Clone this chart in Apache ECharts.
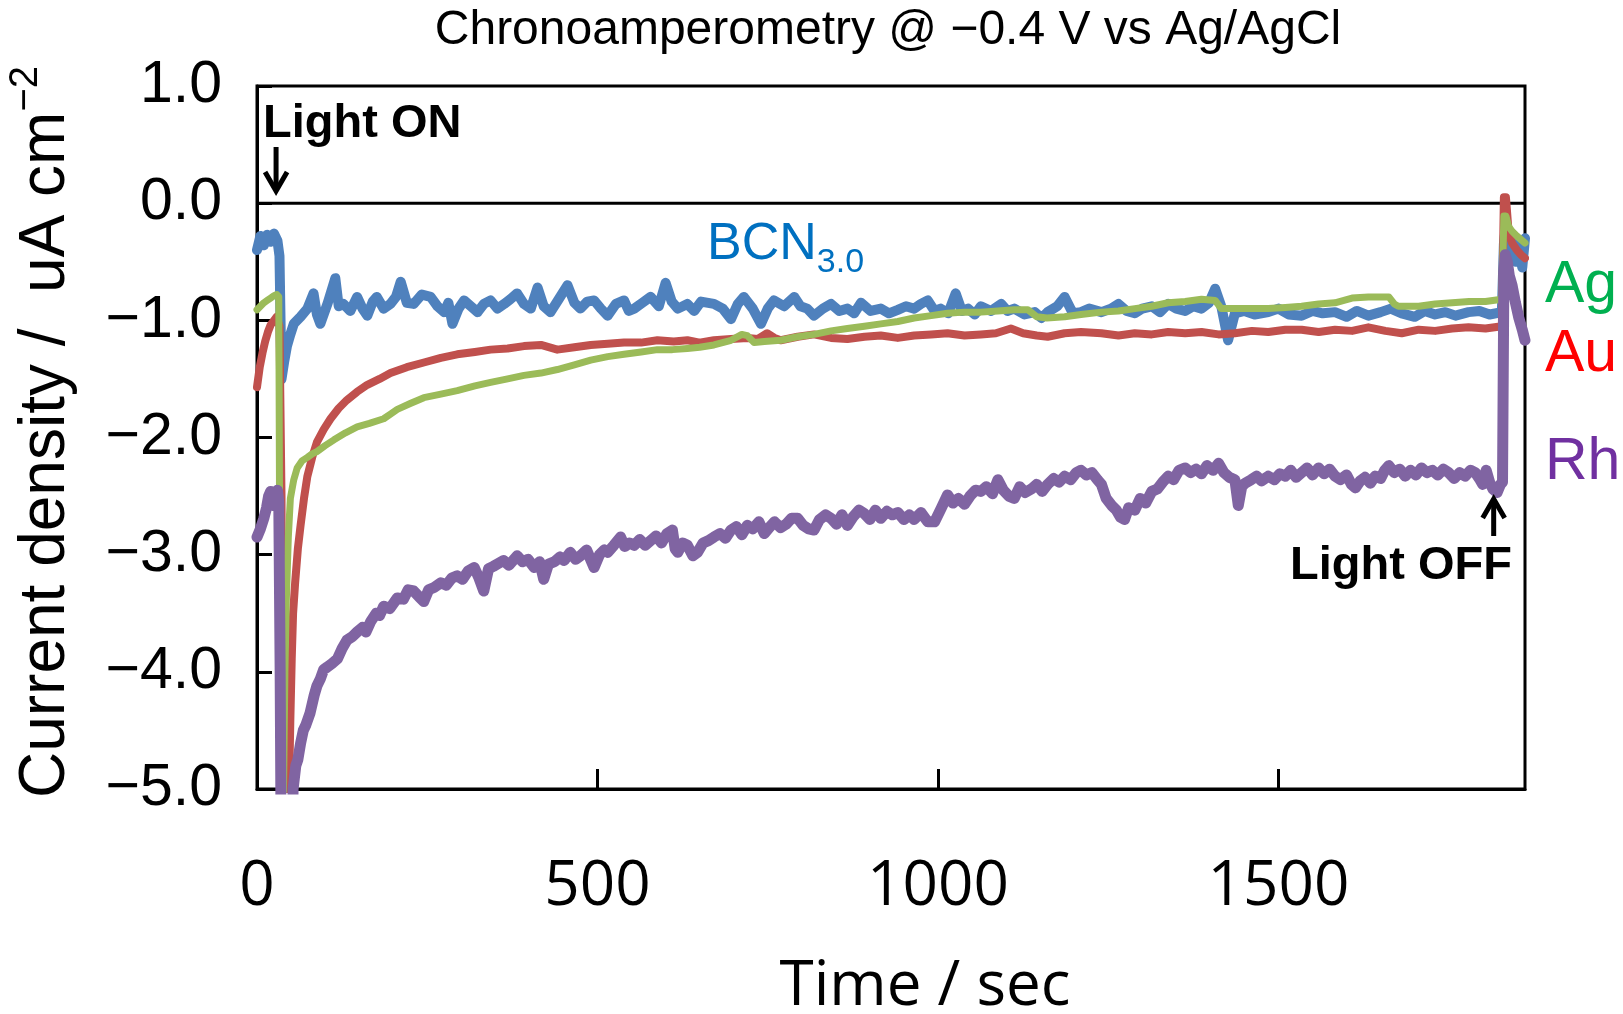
<!DOCTYPE html>
<html><head><meta charset="utf-8">
<script src="https://cdn.jsdelivr.net/npm/echarts@6/dist/echarts.min.js"></script>
<style>html,body{margin:0;padding:0;background:#fff}#c{width:1623px;height:1014px}</style>
</head><body><div id="c"></div>
<script>
// ---------- data ----------
const bcnT = [0,5,10,15,20,25,30,33,36,40,44,49,54,64,74,83,88,93,104,115,120,127,137,147,155,162,170,176,186,196,204,211,220,230,242,255,265,275,281,287,296,304,314,324,333,343,353,363,372,382,392,402,412,421,431,443,456,466,475,485,495,505,515,527,539,546,554,566,578,590,600,609,618,632,642,652,671,684,696,706,715,728,740,750,759,774,789,798,808,818,831,843,855,867,877,887,901,916,928,941,953,965,975,985,995,1004,1015,1026,1035,1044,1054,1063,1078,1093,1102,1112,1127,1142,1152,1161,1175,1186,1198,1210,1222,1240,1254,1265,1277,1289,1300,1314,1326,1338,1350,1363,1375,1387,1398,1407,1416,1426,1436,1450,1465,1485,1500,1515,1534,1550,1565,1583,1600,1615,1632,1650,1665,1681,1700,1715,1730,1745,1760,1779,1795,1810,1828,1831,1834,1838,1842,1848,1853,1858,1862];
const bcnV = [-0.40,-0.28,-0.36,-0.27,-0.33,-0.26,-0.32,-0.45,-1.50,-1.35,-1.22,-1.12,-1.03,-0.97,-0.90,-0.77,-0.95,-1.03,-0.85,-0.64,-0.88,-0.86,-0.92,-0.80,-0.90,-0.96,-0.84,-0.80,-0.90,-0.86,-0.80,-0.67,-0.85,-0.86,-0.78,-0.80,-0.88,-0.93,-0.85,-1.03,-0.90,-0.83,-0.88,-0.93,-0.86,-0.83,-0.90,-0.86,-0.82,-0.77,-0.86,-0.90,-0.72,-0.88,-0.93,-0.82,-0.70,-0.85,-0.90,-0.84,-0.83,-0.90,-0.96,-0.86,-0.83,-0.92,-0.90,-0.85,-0.80,-0.88,-0.68,-0.84,-0.90,-0.86,-0.92,-0.84,-0.86,-0.90,-0.99,-0.86,-0.80,-0.90,-1.03,-0.90,-0.83,-0.88,-0.80,-0.88,-0.90,-0.96,-0.90,-0.86,-0.92,-0.90,-0.94,-0.85,-0.92,-0.90,-0.94,-0.91,-0.88,-0.90,-0.86,-0.83,-0.92,-0.90,-0.94,-0.77,-0.92,-0.90,-0.95,-0.88,-0.92,-0.86,-0.92,-0.90,-0.95,-0.93,-0.98,-0.93,-0.88,-0.80,-0.94,-0.93,-0.90,-0.93,-0.90,-0.86,-0.92,-0.94,-0.90,-0.88,-0.93,-0.86,-0.90,-0.92,-0.88,-0.90,-0.85,-0.73,-0.88,-1.17,-0.94,-0.92,-0.95,-0.93,-0.90,-0.95,-0.96,-0.92,-0.94,-0.93,-0.97,-0.92,-0.96,-0.93,-0.90,-0.94,-0.97,-0.92,-0.95,-0.93,-0.96,-0.93,-0.92,-0.95,-0.93,-0.35,-0.20,-0.45,-0.30,-0.50,-0.35,-0.55,-0.30];

const auT = [0,4,8,12,16,20,25,29,33,36,38,45,47,49,51,53,56,60,64,69,74,81,88,98,108,120,132,147,162,180,196,220,245,270,294,320,343,368,392,417,441,466,490,515,539,564,588,612,632,650,671,696,720,735,749,760,769,794,818,843,867,892,916,941,965,990,1014,1039,1063,1085,1107,1125,1145,1161,1186,1210,1240,1265,1289,1314,1338,1363,1387,1412,1436,1461,1485,1510,1534,1559,1583,1608,1632,1657,1681,1706,1730,1755,1779,1804,1828,1831,1834,1838,1843,1850,1856,1862];
const auV = [-1.57,-1.40,-1.28,-1.18,-1.10,-1.04,-1.00,-0.97,-1.05,-2.50,-6,-6,-5.0,-4.40,-3.89,-3.50,-3.24,-2.95,-2.75,-2.52,-2.33,-2.17,-2.04,-1.93,-1.84,-1.75,-1.68,-1.61,-1.55,-1.50,-1.45,-1.40,-1.36,-1.32,-1.29,-1.27,-1.25,-1.24,-1.22,-1.21,-1.25,-1.23,-1.21,-1.20,-1.19,-1.19,-1.17,-1.18,-1.17,-1.19,-1.17,-1.16,-1.15,-1.16,-1.11,-1.15,-1.17,-1.14,-1.12,-1.15,-1.16,-1.14,-1.13,-1.15,-1.13,-1.12,-1.11,-1.13,-1.12,-1.11,-1.07,-1.11,-1.13,-1.14,-1.11,-1.10,-1.11,-1.13,-1.11,-1.12,-1.10,-1.11,-1.10,-1.12,-1.11,-1.09,-1.10,-1.08,-1.08,-1.10,-1.08,-1.09,-1.06,-1.09,-1.11,-1.08,-1.09,-1.07,-1.06,-1.07,-1.05,0.05,0.05,-0.25,-0.34,-0.40,-0.44,-0.47];

const agT = [0,5,10,15,20,25,29,32,33,35,38,39,41,43,46,49,54,59,66,74,81,88,100,113,130,147,165,186,196,206,225,245,270,294,320,343,368,392,417,441,466,490,515,539,564,588,610,632,650,671,696,712,720,730,745,769,794,818,843,867,892,916,941,965,990,1014,1039,1063,1088,1112,1132,1145,1160,1186,1210,1240,1265,1289,1314,1338,1363,1387,1407,1416,1436,1461,1485,1510,1534,1559,1583,1608,1632,1662,1670,1676,1706,1730,1755,1780,1804,1828,1831,1834,1838,1843,1850,1856,1862];
const agV = [-0.91,-0.88,-0.85,-0.83,-0.81,-0.79,-0.78,-0.80,-2.40,-6,-6,-5.0,-4.0,-3.40,-2.85,-2.52,-2.36,-2.26,-2.20,-2.17,-2.14,-2.12,-2.07,-2.02,-1.96,-1.91,-1.88,-1.84,-1.80,-1.76,-1.71,-1.66,-1.63,-1.60,-1.56,-1.53,-1.50,-1.47,-1.45,-1.42,-1.38,-1.34,-1.31,-1.29,-1.27,-1.25,-1.25,-1.24,-1.23,-1.21,-1.17,-1.12,-1.13,-1.19,-1.18,-1.17,-1.14,-1.12,-1.09,-1.07,-1.05,-1.03,-1.01,-0.98,-0.96,-0.94,-0.93,-0.93,-0.92,-0.91,-0.91,-0.97,-0.98,-0.97,-0.95,-0.93,-0.92,-0.90,-0.88,-0.85,-0.84,-0.82,-0.83,-0.90,-0.90,-0.90,-0.90,-0.89,-0.88,-0.86,-0.85,-0.81,-0.80,-0.80,-0.86,-0.88,-0.88,-0.86,-0.85,-0.84,-0.84,-0.82,-0.11,-0.11,-0.20,-0.24,-0.28,-0.31,-0.34];

const rhT = [0,5,10,14,17,20,23,27,30,32,34,36,50,53,57,60,64,68,72,78,84,88,93,98,103,110,118,125,132,140,147,155,160,167,175,180,186,195,206,215,222,230,238,245,252,260,270,278,286,294,302,310,319,326,333,340,347,353,362,370,382,390,398,407,415,421,428,437,445,451,460,468,475,484,495,503,510,515,524,534,540,547,554,562,570,578,586,594,602,610,614,618,625,632,640,647,655,663,671,680,688,696,704,712,720,728,737,745,752,760,769,777,785,794,802,810,818,826,835,843,851,859,867,875,884,892,900,908,916,925,933,941,950,958,965,975,985,995,1005,1014,1022,1030,1039,1047,1055,1063,1071,1080,1088,1096,1104,1112,1120,1128,1137,1145,1153,1161,1170,1178,1186,1195,1203,1210,1218,1226,1234,1240,1247,1255,1262,1268,1274,1280,1289,1297,1305,1314,1322,1330,1338,1346,1354,1363,1371,1379,1387,1395,1404,1412,1420,1428,1436,1441,1446,1451,1460,1468,1475,1485,1494,1502,1510,1518,1526,1534,1542,1550,1559,1567,1575,1583,1591,1600,1607,1613,1620,1627,1635,1642,1650,1656,1662,1670,1678,1686,1694,1702,1710,1718,1726,1734,1742,1750,1758,1766,1774,1782,1789,1796,1800,1805,1810,1815,1821,1826,1829,1831,1833,1836,1839,1843,1848,1853,1858,1862];
const rhV = [-2.85,-2.78,-2.69,-2.60,-2.50,-2.46,-2.58,-2.49,-2.45,-2.55,-4.0,-6,-6,-5.0,-4.80,-4.75,-4.61,-4.50,-4.45,-4.35,-4.20,-4.12,-4.06,-3.98,-3.96,-3.93,-3.89,-3.80,-3.73,-3.70,-3.66,-3.62,-3.66,-3.57,-3.50,-3.52,-3.44,-3.46,-3.37,-3.38,-3.30,-3.31,-3.36,-3.40,-3.30,-3.28,-3.24,-3.26,-3.20,-3.18,-3.21,-3.14,-3.11,-3.20,-3.31,-3.12,-3.10,-3.08,-3.05,-3.09,-3.01,-3.06,-3.04,-3.11,-3.06,-3.21,-3.08,-3.06,-3.02,-3.05,-2.98,-3.04,-3.01,-2.96,-3.11,-3.00,-2.96,-2.98,-2.92,-2.85,-2.93,-2.90,-2.92,-2.87,-2.92,-2.88,-2.84,-2.90,-2.82,-2.79,-2.95,-2.98,-2.90,-2.92,-3.01,-2.98,-2.90,-2.88,-2.85,-2.82,-2.86,-2.79,-2.76,-2.83,-2.75,-2.78,-2.72,-2.82,-2.77,-2.72,-2.77,-2.74,-2.69,-2.69,-2.75,-2.78,-2.79,-2.70,-2.66,-2.69,-2.74,-2.66,-2.75,-2.68,-2.62,-2.65,-2.70,-2.62,-2.69,-2.63,-2.66,-2.64,-2.70,-2.66,-2.70,-2.64,-2.72,-2.72,-2.60,-2.49,-2.56,-2.52,-2.57,-2.50,-2.45,-2.46,-2.42,-2.48,-2.36,-2.45,-2.50,-2.52,-2.42,-2.47,-2.44,-2.40,-2.46,-2.40,-2.35,-2.38,-2.33,-2.36,-2.30,-2.28,-2.32,-2.30,-2.36,-2.40,-2.52,-2.58,-2.62,-2.68,-2.70,-2.60,-2.62,-2.52,-2.56,-2.46,-2.44,-2.38,-2.33,-2.36,-2.28,-2.26,-2.30,-2.27,-2.31,-2.24,-2.28,-2.22,-2.30,-2.34,-2.36,-2.58,-2.42,-2.39,-2.36,-2.33,-2.37,-2.33,-2.36,-2.31,-2.33,-2.28,-2.34,-2.30,-2.26,-2.32,-2.26,-2.31,-2.27,-2.33,-2.36,-2.32,-2.40,-2.43,-2.37,-2.34,-2.39,-2.33,-2.35,-2.28,-2.24,-2.30,-2.27,-2.33,-2.28,-2.32,-2.26,-2.30,-2.28,-2.32,-2.27,-2.30,-2.35,-2.30,-2.33,-2.28,-2.30,-2.36,-2.40,-2.28,-2.38,-2.44,-2.47,-2.40,-2.38,-0.60,-0.44,-0.50,-0.62,-0.70,-0.85,-0.98,-1.08,-1.17];

const xTickValues = [0, 500, 1000, 1500];
const xTickLabels = ['0', '500', '1000', '1500'];
const yTickValues = [1, 0, -1, -2, -3, -4, -5];
const yTickLabels = ['1.0', '0.0', '\u22121.0', '\u22122.0', '\u22123.0', '\u22124.0', '\u22125.0'];
const X_MAX = 1862;
const lightOnTime = 28;
const lightOffTime = 1816;

// ---------- chart ----------
const pairs = (t, v) => t.map((x, i) => [x, v[i]]);
const FONT = '"Liberation Sans", Arial, sans-serif';
const XFONT = '"Open Sans", "Liberation Sans", sans-serif';
const chart = echarts.init(document.getElementById('c'), null, { renderer: 'canvas' });

function lineSeries(name, t, v, color, width) {
  return {
    type: 'line', name: name, data: pairs(t, v), symbol: 'none', showSymbol: false,
    clip: true, lineStyle: { color: color, width: width, join: 'round', cap: 'round' },
    itemStyle: { color: color }, silent: true
  };
}

chart.setOption({
  animation: false,
  backgroundColor: '#fff',
  grid: { left: 257, right: 98, top: 86, bottom: 225, show: true, borderColor: '#000', borderWidth: 3 },
  xAxis: {
    type: 'value', min: 0, max: X_MAX, interval: 500,
    axisLine: { show: true, onZero: false, lineStyle: { color: '#000', width: 3 } },
    axisTick: { show: true, inside: true, length: 20, lineStyle: { color: '#000', width: 3 } },
    axisLabel: {
      margin: 67, fontSize: 62, fontFamily: XFONT, color: '#000', showMaxLabel: false,
      formatter: v => { const i = xTickValues.indexOf(v); return i >= 0 ? xTickLabels[i] : ''; }
    },
    splitLine: { show: false }
  },
  yAxis: {
    type: 'value', min: -5, max: 1, interval: 1,
    axisLine: { show: true, onZero: false, lineStyle: { color: '#000', width: 3 } },
    axisTick: { show: true, inside: true, length: 15, lineStyle: { color: '#000', width: 3 } },
    axisLabel: {
      margin: 35, fontSize: 59, fontFamily: FONT, color: '#000',
      formatter: v => { const i = yTickValues.indexOf(Math.round(v)); return i >= 0 ? yTickLabels[i] : ''; }
    },
    splitLine: { show: false }
  },
  series: [
    { type: 'line', name: 'zero', data: [[0, 0], [X_MAX, 0]], symbol: 'none', silent: true,
      lineStyle: { color: '#000', width: 3 } },
    lineSeries('BCN3.0', bcnT, bcnV, '#4F81BD', 10),
    lineSeries('Au', auT, auV, '#C0504D', 8),
    lineSeries('Ag', agT, agV, '#9BBB59', 7),
    lineSeries('Rh', rhT, rhV, '#8064A2', 11)
  ]
});

// ---------- annotations ----------
const onX = chart.convertToPixel({ gridIndex: 0 }, [lightOnTime, 0])[0];
const offX = chart.convertToPixel({ gridIndex: 0 }, [lightOffTime, 0])[0];

function txt(x, y, text, size, color, opts) {
  opts = opts || {};
  return {
    type: 'text', x: x, y: y, rotation: opts.rotation || 0, silent: true, z: 100,
    style: Object.assign({
      text: text, fill: color, fontSize: size, fontFamily: opts.family || FONT,
      fontWeight: opts.weight || 'normal',
      align: opts.align || 'left', verticalAlign: 'middle',
      textAlign: opts.align || 'left', textVerticalAlign: 'middle'
    }, opts.extra || {})
  };
}

chart.setOption({
  graphic: [
    txt(888, 31, 'Chronoamperometry @ \u22120.4 V vs Ag/AgCl', 48, '#000', { align: 'center' }),
    txt(263, 124, 'Light ON', 47, '#000', { weight: 'bold' }),
    txt(1290, 566, 'Light OFF', 47, '#000', { weight: 'bold' }),
    txt(1545, 286, 'Ag', 59, '#00B050'),
    txt(1545, 355, 'Au', 59, '#FF0000'),
    txt(1545, 463, 'Rh', 59, '#7030A0'),
    txt(925, 987, 'Time / sec', 62, '#000', { align: 'center', family: XFONT }),
    txt(707, 245, '{a|BCN}{s|3.0}', 52, '#0070C0', {
      extra: { rich: {
        a: { fontSize: 52, fontFamily: FONT, fill: '#0070C0', lineHeight: 70, verticalAlign: 'middle' },
        s: { fontSize: 34, fontFamily: FONT, fill: '#0070C0', lineHeight: 34, verticalAlign: 'bottom' }
      } }
    }),
    txt(46, 432, '{a|Current density /  uA cm}{s|\u22122}', 64, '#000', {
      align: 'center', rotation: Math.PI / 2,
      extra: { rich: {
        a: { fontSize: 64, fontFamily: FONT, fill: '#000', lineHeight: 80, verticalAlign: 'middle' },
        s: { fontSize: 40, fontFamily: FONT, fill: '#000', lineHeight: 40, verticalAlign: 'top' }
      } }
    }),
    // Light ON arrow (down)
    { type: 'line', silent: true, z: 100, shape: { x1: onX, y1: 147, x2: onX, y2: 188 },
      style: { stroke: '#000', lineWidth: 5 } },
    { type: 'polyline', silent: true, z: 100,
      shape: { points: [[onX - 11, 172], [onX, 191], [onX + 11, 172]] },
      style: { stroke: '#000', lineWidth: 5, fill: null } },
    // Light OFF arrow (up)
    { type: 'line', silent: true, z: 100, shape: { x1: offX, y1: 502, x2: offX, y2: 536 },
      style: { stroke: '#000', lineWidth: 5 } },
    { type: 'polyline', silent: true, z: 100,
      shape: { points: [[offX - 11, 518], [offX, 499], [offX + 11, 518]] },
      style: { stroke: '#000', lineWidth: 5, fill: null } }
  ]
});
</script>
</body></html>
